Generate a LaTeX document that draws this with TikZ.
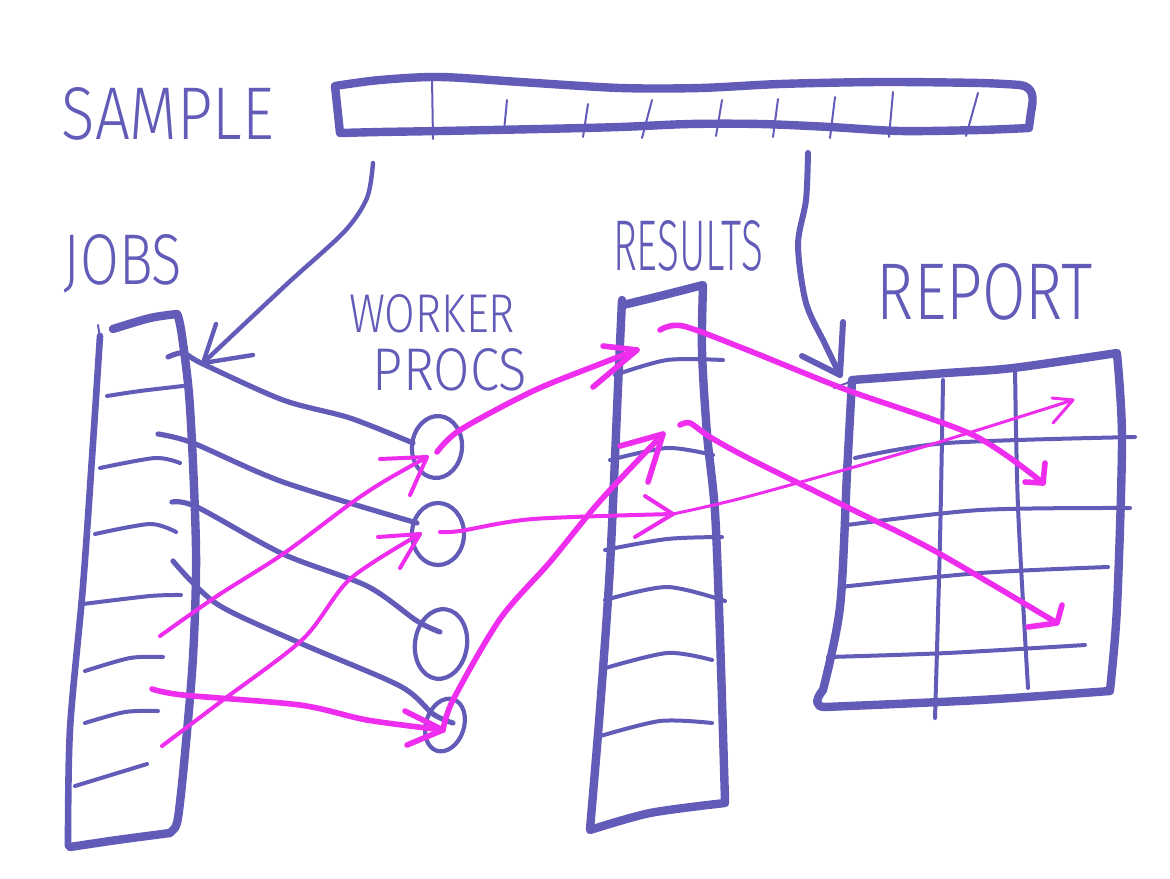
\documentclass[tikz,border=0pt]{standalone}
\usepackage{fontspec}
\setmainfont{Fira Sans}[UprightFont=* Light]
\usepackage{graphicx}
\usetikzlibrary{shapes.geometric}
\definecolor{pen}{RGB}{98,92,184}
\definecolor{mag}{RGB}{238,45,238}
\begin{document}
\begin{tikzpicture}[x=0.5pt,y=-0.5pt,line cap=round,line join=round,
  frame/.style={draw=pen,line width=4.2pt},
  lframe/.style={draw=pen,line width=3.3pt},
  rowline/.style={draw=pen,line width=2pt},
  divline/.style={draw=pen,line width=1pt},
  conn/.style={draw=pen,line width=2.6pt},
  worker/.style={draw=pen,line width=2.1pt,ellipse,inner sep=0pt},
  magthick/.style={draw=mag,line width=2.8pt},
  magmid/.style={draw=mag,line width=2pt},
  magthin/.style={draw=mag,line width=1.5pt},
  lbl/.style={text=pen,inner sep=0pt}]
\fill[white] (0,0) rectangle (1170,878);
\useasboundingbox (0,0) rectangle (1170,878);

% ---------- labels
\node[lbl] (lsample) at (168,114) {\resizebox{106pt}{26pt}{SAMPLE}};
\node[lbl] (ljobs) at (123,264) {\resizebox{59pt}{25pt}{JOBS}};
\node[lbl] (lworker) at (432,314) {\resizebox{83pt}{19pt}{WORKER}};
\node[lbl] (lprocs) at (450,370) {\resizebox{77pt}{21pt}{PROCS}};
\node[lbl] (lresults) at (688,246) {\resizebox{75pt}{25pt}{RESULTS}};
\node[lbl] (lreport) at (985,292) {\resizebox{108pt}{28pt}{REPORT}};

% ---------- sample bar
\draw[frame] plot[smooth,tension=0.5] coordinates {(335,86) (380,80) (440,77) (520,82) (620,88) (700,88) (780,84) (880,82) (980,83) (1020,85)}
  .. controls (1034,87) and (1034,98) .. (1031,112) -- (1029,127)
  -- plot[smooth,tension=0.5] coordinates {(1029,128) (980,130) (900,131) (830,127) (760,124) (690,124) (620,127) (540,129) (440,131) (380,132) (340,133)}
  -- cycle;
\draw[divline] (432,78) -- (433,139);
\draw[divline] (507,100) -- (504,131);
\draw[divline] (588,104) -- (583,137);
\draw[divline] (652,100) -- (642,138);
\draw[divline] (722,100) -- (716,136);
\draw[divline] (778,99) -- (773,137);
\draw[divline] (835,97) -- (830,138);
\draw[divline] (893,92) -- (889,137);
\draw[divline] (978,93) -- (966,136);

% ---------- jobs column
\draw[frame] plot[smooth,tension=0.5] coordinates {(113,329) (150,318) (177,314)}
  -- plot[smooth,tension=0.5] coordinates {(178,316) (182,336) (190,407) (196,550) (193,657) (184,764) (178,818) (174,829)}
  -- plot[smooth,tension=0.5] coordinates {(170,833) (117,840) (70,847)};
\draw[lframe] plot[smooth,tension=0.5] coordinates {(68,846) (70,729) (83,586) (93,443) (100,336)};
\draw[divline] (100,338) -- (98,325);
\draw[rowline] plot[smooth] coordinates {(107,396) (140,391) (183,386)};
\draw[rowline] plot[smooth] coordinates {(100,468) (155,458) (180,463)};
\draw[rowline] plot[smooth] coordinates {(95,534) (150,524) (176,532)};
\draw[rowline] plot[smooth] coordinates {(83,604) (150,596) (181,595)};
\draw[rowline] plot[smooth] coordinates {(85,671) (130,658) (163,657)};
\draw[rowline] plot[smooth] coordinates {(85,723) (125,712) (158,711)};
\draw[rowline] plot[smooth] coordinates {(75,786) (147,764)};

% ---------- workers
\node[worker,minimum width=25pt,minimum height=31pt,rotate=-5] (w1) at (437,447) {};
\node[worker,minimum width=26pt,minimum height=31pt] (w2) at (438,534) {};
\node[worker,minimum width=26pt,minimum height=35pt,rotate=-8] (w3) at (441,644) {};
\node[worker,minimum width=19pt,minimum height=27pt,rotate=-18] (w4) at (445,725) {};

% ---------- results column
\draw[frame] plot[smooth,tension=0.5] coordinates {(623,305) (660,296) (703,285)}
  -- plot[smooth,tension=0.5] coordinates {(703,286) (702,351) (707,434) (715,512) (720,637) (725,801)}
  -- plot[smooth,tension=0.5] coordinates {(725,803) (650,813) (590,830)}
  -- plot[smooth,tension=0.5] coordinates {(590,829) (600,709) (610,566) (618,387) (622,300)};
\draw[rowline] plot[smooth] coordinates {(615,375) (667,360) (723,360)};
\draw[rowline] plot[smooth] coordinates {(610,460) (667,448) (713,455)};
\draw[rowline] plot[smooth] coordinates {(605,550) (667,539) (722,537)};
\draw[rowline] plot[smooth] coordinates {(605,600) (667,587) (725,601)};
\draw[rowline] plot[smooth] coordinates {(602,669) (667,653) (712,660)};
\draw[rowline] plot[smooth] coordinates {(597,737) (660,721) (712,723)};

% ---------- report grid
\draw[frame] plot[smooth,tension=0.5] coordinates {(852,380) (947,373) (1013,368) (1117,353)}
  -- plot[smooth,tension=0.5] coordinates {(1117,354) (1122,440) (1117,607) (1110,690)}
  -- plot[smooth,tension=0.5] coordinates {(1110,691) (980,700) (825,707)}
  .. controls (815,707) and (815,700) .. (823,690)
  -- plot[smooth,tension=0.5] coordinates {(823,690) (840,607) (847,473) (852,380)};
\draw[divline] (834,388) -- (852,381);
\draw[rowline] plot[smooth] coordinates {(943,380) (940,540) (935,718)};
\draw[rowline] plot[smooth] coordinates {(1015,368) (1018,507) (1028,688)};
\draw[rowline] plot[smooth] coordinates {(855,458) (947,443) (1135,437)};
\draw[rowline] plot[smooth] coordinates {(847,525) (980,510) (1130,508)};
\draw[rowline] plot[smooth] coordinates {(840,587) (980,573) (1108,567)};
\draw[rowline] plot[smooth] coordinates {(828,657) (947,653) (1085,645)};

% ---------- sample arrows
\coordinate (sj0) at (373,163); \coordinate (sjt) at (203,363);
\draw[conn,line width=2.2pt] plot[smooth] coordinates {(sj0) (367,198) (344,232) (287,284) (sjt)};
\draw[conn,line width=2.2pt] (216,324) -- (sjt) -- (253,355);
\coordinate (sr0) at (808,153); \coordinate (srt) at (840,375);
\draw[conn,line width=3pt] plot[smooth] coordinates {(sr0) (806,200) (798,245) (806,303) (825,344) (srt)};
\draw[conn,line width=3pt] (802,356) -- (srt) -- (843,322);

% ---------- jobs -> workers (blue)
\coordinate (j1) at (168,357); \coordinate (e1) at (413,443);
\coordinate (j2) at (158,434); \coordinate (e2) at (417,523);
\coordinate (j3) at (172,502); \coordinate (e3) at (440,632);
\coordinate (j4) at (173,561); \coordinate (e4) at (453,723);
\draw[conn] plot[smooth] coordinates {(j1) (183,353) (203,364) (283,400) (350,418) (e1)};
\draw[conn] plot[smooth] coordinates {(j2) (193,443) (283,482) (e2)};
\draw[conn] plot[smooth] coordinates {(j3) (197,507) (283,554) (367,586) (417,621) (e3)};
\draw[conn] plot[smooth] coordinates {(j4) (217,604) (300,643) (400,686) (433,714) (e4)};

% ---------- jobs -> workers (magenta)
\coordinate (m1) at (160,636); \coordinate (m1t) at (427,457);
\coordinate (m2) at (162,746); \coordinate (m2t) at (420,534);
\coordinate (m3) at (152,689); \coordinate (m3t) at (443,730);
\draw[magmid] plot[smooth] coordinates {(m1) (217,596) (283,554) (350,504) (383,482) (m1t)};
\draw[magmid] (380,459) -- (m1t) -- (410,495);
\draw[magmid] plot[smooth] coordinates {(m2) (223,700) (303,639) (350,579) (m2t)};
\draw[magmid] (378,537) -- (m2t) -- (400,568);
\draw[magthick] plot[smooth] coordinates {(m3) (183,695) (300,705) (367,720) (m3t)};
\draw[magthick] (405,711) -- (m3t) -- (407,745);

% ---------- workers -> results
\coordinate (r1t) at (637,350); \coordinate (r2t) at (673,514); \coordinate (r3t) at (663,434);
\draw[magthick] plot[smooth] coordinates {(437,452) (460,430) (533,391) (600,364) (r1t)};
\draw[magthick] (603,346) -- (r1t) -- (593,387);
\draw[magmid] plot[smooth] coordinates {(440,532) (460,531) (533,519) (r2t)};
\draw[magmid] (645,496) -- (r2t) -- (635,537);
\draw[magthick] plot[smooth] coordinates {(443,730) (453,700) (500,619) (550,562) (600,501) (r3t)};
\draw[magthick] (620,446) -- (r3t) -- (648,482);

% ---------- results -> report
\coordinate (at) at (1043,483); \coordinate (bt) at (1057,623); \coordinate (ct) at (1073,400);
\draw[magthick] plot[smooth] coordinates {(660,330) (683,326) (750,351) (847,390) (973,435) (at)};
\draw[magthick] (1045,463) -- (at) -- (1025,482);
\draw[magthick] plot[smooth] coordinates {(680,425) (690,423) (710,437) (750,459) (847,507) (933,550) (bt)};
\draw[magthick] (1062,605) -- (bt) -- (1028,627);
\draw[magthin] plot[smooth] coordinates {(r2t) (750,496) (913,450) (ct)};
\draw[magthin] (1052,398) -- (ct) -- (1053,423);
\end{tikzpicture}
\end{document}
